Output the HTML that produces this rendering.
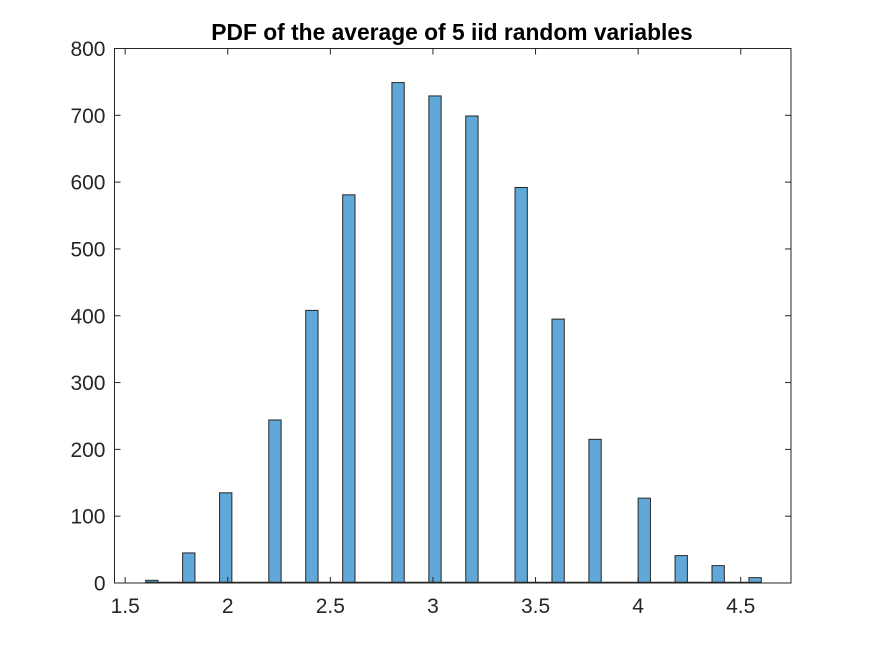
<!DOCTYPE html>
<html><head><meta charset="utf-8"><style>
body{margin:0;background:#fff;}
svg{display:block;font-family:"Liberation Sans",Arial,sans-serif;}
</style></head><body>
<svg id="chart" width="875" height="656" viewBox="0 0 875 656" xmlns="http://www.w3.org/2000/svg">
<rect width="875" height="656" fill="#fff"/>
<text x="452" y="40" text-anchor="middle" font-size="22.8" font-weight="bold" fill="#000">PDF of the average of 5 iid random variables</text>
<g id="bars"></g>
<g id="axes"></g>
</svg>
<script>
const sampleValues = [1.6,1.8,2.0,2.2,2.4,2.6,2.8,3.0,3.2,3.4,3.6,3.8,4.0,4.2,4.4,4.6];
const counts = [4,45,135,244,408,581,749,729,699,592,395,215,127,41,26,8];
const xTicks = [1.5,2,2.5,3,3.5,4,4.5];
const xTickLabels = ["1.5","2","2.5","3","3.5","4","4.5"];
const yTicks = [0,100,200,300,400,500,600,700,800];
const binStart = 1.6, binWidth = 0.06, numBins = 50;

const L=114.5, R=791, T=48.5, B=583;
const xMin=1.448, xMax=4.745, yMin=0, yMax=800;
const xs = v => L + (v-xMin)/(xMax-xMin)*(R-L);
const ys = v => B - (v-yMin)/(yMax-yMin)*(B-T);
const NS="http://www.w3.org/2000/svg";
function mk(tag, attrs, parent){const e=document.createElementNS(NS,tag);for(const k in attrs)e.setAttribute(k,attrs[k]);parent.appendChild(e);return e;}

const bars=document.getElementById('bars');
const binCounts=new Array(numBins).fill(0);
sampleValues.forEach((v,i)=>{let b=Math.floor((v-binStart)/binWidth+1e-9);if(b>=numBins)b=numBins-1;if(b<0)b=0;binCounts[b]+=counts[i];});
binCounts.forEach((c,b)=>{
  const x0=xs(binStart+b*binWidth), x1=xs(binStart+(b+1)*binWidth);
  const r=mk('rect',{x:x0,y:ys(c),width:x1-x0,height:ys(0)-ys(c),fill:'#5fa8d8',stroke:'#262626','stroke-width':1},bars);
  
  
});
const base=mk('line',{x1:xs(binStart),y1:B-0.5,x2:xs(binStart+numBins*binWidth),y2:B-0.5,stroke:'#262626','stroke-width':1.5},bars);



const ax=document.getElementById('axes');
const box=mk('rect',{x:L,y:T,width:R-L,height:B-T,fill:'none',stroke:'#262626','stroke-width':1},ax);


xTicks.forEach((t,i)=>{
  const x=xs(t);
  mk('line',{x1:x,y1:B,x2:x,y2:B-6,stroke:'#262626'},ax);
  mk('line',{x1:x,y1:T,x2:x,y2:T+6,stroke:'#262626'},ax);
  const tx=mk('text',{x:x,y:B+30,'text-anchor':'middle','font-size':21,fill:'#262626'},ax);
  tx.textContent=xTickLabels[i];
  
  
});
yTicks.forEach(t=>{
  const y=ys(t);
  mk('line',{x1:L,y1:y,x2:L+6,y2:y,stroke:'#262626'},ax);
  mk('line',{x1:R,y1:y,x2:R-6,y2:y,stroke:'#262626'},ax);
  const tx=mk('text',{x:L-9,y:y+7.5,'text-anchor':'end','font-size':21,fill:'#262626'},ax);
  tx.textContent=String(t);
  
  
});
</script>
</body></html>
